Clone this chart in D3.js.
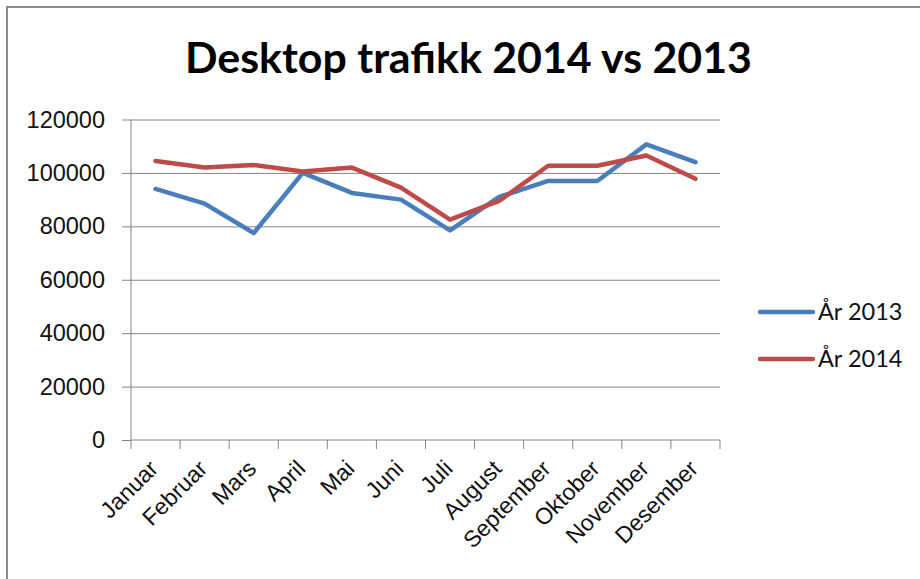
<!DOCTYPE html>
<html>
<head>
<meta charset="utf-8">
<script src="https://cdn.jsdelivr.net/npm/d3@7"></script>
<style>
	body { margin: 0; background: #fff; }
	svg { display: block; font-family: Lato, "Open Sans", sans-serif; }
	.axis path, .axis line { stroke: #868686; }
	.grid line { stroke: #868686; }
	.grid path { display: none; }
	.series { fill: none; stroke-width: 4.5; stroke-linejoin: round; stroke-linecap: round; }
</style>
</head>
<body>
<div id="chart"></div>
<script>
var months = ["Januar", "Februar", "Mars", "April", "Mai", "Juni", "Juli", "August", "September", "Oktober", "November", "Desember"];

var seriesNames = ["År 2013", "År 2014"];

var values2013 = [94000, 88500, 77500, 100000, 92500, 90000, 78500, 91000, 97000, 97000, 110700, 104000];
var values2014 = [104500, 102000, 103000, 100500, 102000, 94500, 82500, 89500, 102700, 102700, 106500, 97800];

var yTicks = [0, 20000, 40000, 60000, 80000, 100000, 120000];

var colors = ["#4a7ebb", "#be4b48"];

var width = 920,
	height = 579;

var margin = { top: 119.5, right: 200, bottom: 139, left: 131 };

var chart_width = width - (margin.left + margin.right);
var chart_height = height - (margin.top + margin.bottom);

var svg = d3.select("#chart").append("svg")
	.attr("width", width)
	.attr("height", height);

// outer frame of the chart object, only the top and left edges show
svg.append("path")
	.attr("d", "M7," + height + "V7H" + width)
	.attr("fill", "none")
	.attr("stroke", "#8c8c8c")
	.attr("stroke-width", 2);

var title = svg.append("text")
	.attr("x", 468.5)
	.attr("y", 73)
	.attr("text-anchor", "middle")
	.style("font-weight", "bold")
	.style("font-size", "40px")
	.text("Desktop trafikk 2014 vs 2013");

// squeeze title to the width it has in the picture
var tw = title.node().getComputedTextLength();
title.style("font-size", (40 * 567 / tw) + "px");

var xScale = d3.scaleBand().domain(months).range([0, chart_width]);
var yScale = d3.scaleLinear().domain([0, 120000]).range([chart_height, 0]);

var g = svg.append("g")
	.attr("transform", "translate(" + margin.left + "," + margin.top + ")");

g.append("g")
	.attr("class", "grid")
	.call(d3.axisLeft(yScale).tickValues(yTicks.slice(1)).tickSize(-chart_width).tickFormat(""));

var yAxis = d3.axisLeft(yScale)
	.tickValues(yTicks)
	.tickSize(9)
	.tickPadding(17)
	.tickFormat(d3.format("d"));

g.append("g")
	.attr("class", "y axis")
	.call(yAxis)
	.call(a => a.select(".domain").attr("d", "M0,0V" + chart_height))
	.selectAll("text")
	.style("font-size", "23.5px")
	.style("fill", "#111");

var xAxis = d3.axisBottom(xScale).tickSize(0);

var xg = g.append("g")
	.attr("class", "x axis")
	.attr("transform", "translate(0," + chart_height + ")")
	.call(xAxis);

xg.select(".domain").attr("d", "M0,0H" + chart_width);

xg.selectAll(".tick text")
	.attr("x", 0)
	.attr("y", 0)
	.attr("dy", null)
	.attr("text-anchor", "end")
	.attr("transform", "translate(4,30) rotate(-45)")
	.style("font-size", "23px")
	.style("fill", "#111");

// tick marks sit between the categories
var edges = months.map(d => xScale(d)).concat([chart_width]);
xg.selectAll(".edge")
	.data(edges)
	.enter()
	.append("line")
	.attr("class", "edge")
	.attr("x1", d => d)
	.attr("x2", d => d)
	.attr("y1", 0)
	.attr("y2", 9);

var line = d3.line()
	.x((d, i) => xScale(months[i]) + xScale.bandwidth() / 2)
	.y(d => yScale(d));

g.selectAll(".series")
	.data([values2013, values2014])
	.enter()
	.append("path")
	.attr("class", "series")
	.attr("d", d => line(d))
	.style("stroke", (d, i) => colors[i]);

var legend = svg.selectAll(".legend")
	.data(seriesNames)
	.enter()
	.append("g")
	.attr("class", "legend")
	.attr("transform", (d, i) => "translate(760," + (312 + i * 47) + ")");

legend.append("line")
	.attr("x1", 0)
	.attr("x2", 53)
	.attr("stroke-width", 4.5)
	.attr("stroke-linecap", "round")
	.style("stroke", (d, i) => colors[i]);

legend.append("text")
	.attr("x", 58)
	.attr("dy", "0.35em")
	.style("font-size", "23.5px")
	.style("fill", "#111")
	.text(d => d);
</script>
</body>
</html>
